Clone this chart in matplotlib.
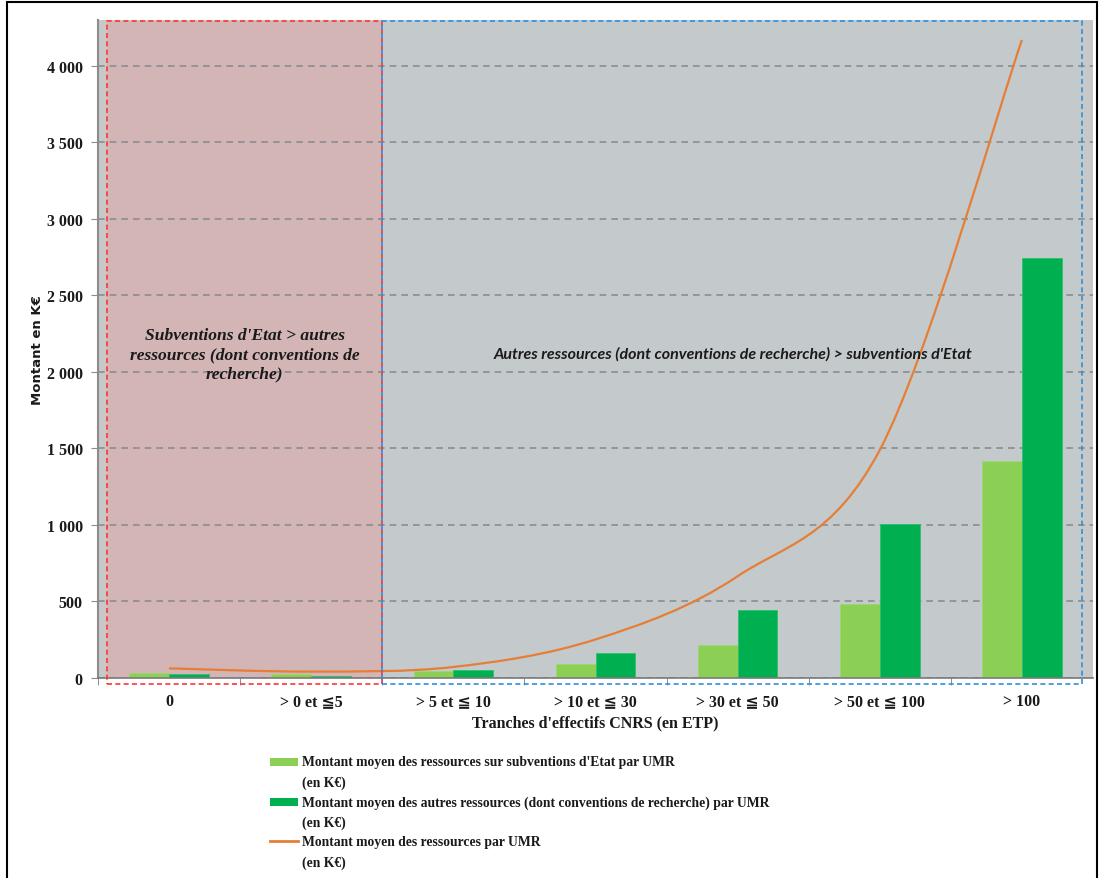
#!/usr/bin/env python3
# -*- coding: utf-8 -*-
"""
Ressources moyennes par UMR selon les tranches d'effectifs CNRS.
Barres groupées + courbe lissée (style Excel), sauvegardé dans out.png.
"""
import matplotlib
matplotlib.use("Agg")
import matplotlib.pyplot as plt
from matplotlib.patches import Rectangle, PathPatch
from matplotlib.lines import Line2D
from matplotlib.path import Path
from matplotlib.ticker import FuncFormatter

# Données (en K€)
tranches = ["0", "> 0 et ≦5", "> 5 et ≦ 10", "> 10 et ≦ 30",
            "> 30 et ≦ 50", "> 50 et ≦ 100", "> 100"]
subventions_etat = [35, 24, 48, 92, 213, 486, 1420]
autres_ressources = [24, 15, 50, 163, 446, 1008, 2742]
total_ressources = [63, 42, 72, 252, 665, 1490, 4170]

labels_legende = [
    ("Montant moyen des ressources sur subventions d'Etat par UMR", "(en K€)"),
    ("Montant moyen des autres ressources (dont conventions de recherche) par UMR", "(en K€)"),
    ("Montant moyen des ressources par UMR", "(en K€)"),
]
texte_gauche = "Subventions d'Etat > autres\nressources (dont conventions de\nrecherche)"
texte_droite = "Autres ressources (dont conventions de recherche) > subventions d'Etat"

VERT_CLAIR = "#8ccf55"
VERT_FONCE = "#00b050"
ORANGE = "#e57e36"
# ≦ absent de Liberation Serif : repli sur DejaVu Sans / Noto CJK
SERIF = ["Liberation Serif", "DejaVu Sans", "Noto Sans CJK JP"]


def courbe_lissee(xs, ys):
    """Chemin Bézier type Catmull-Rom (comme le lissage d'Excel)."""
    pts = list(zip(xs, ys))
    verts = [pts[0]]
    codes = [Path.MOVETO]
    n = len(pts)
    for i in range(n - 1):
        p0 = pts[i - 1] if i > 0 else pts[i]
        p1 = pts[i]
        p2 = pts[i + 1]
        p3 = pts[i + 2] if i + 2 < n else pts[i + 1]
        c1 = (p1[0] + (p2[0] - p0[0]) / 6, p1[1] + (p2[1] - p0[1]) / 6)
        c2 = (p2[0] - (p3[0] - p1[0]) / 6, p2[1] - (p3[1] - p1[1]) / 6)
        verts += [c1, c2, p2]
        codes += [Path.CURVE4] * 3
    return Path(verts, codes)


def graphique():
    fig = plt.figure(figsize=(11.01, 8.79), dpi=100)
    ax = fig.add_axes([98 / 1101, 1 - 679 / 879, (1093 - 98) / 1101, (679 - 21) / 879])
    ax.set_facecolor("#c8c8c8")
    ax.set_xlim(-0.5, 6.5)
    ax.set_ylim(0, 4300)

    # Zones colorées
    ax.add_patch(Rectangle((-0.435, 0), 1.935, 4292, facecolor="#d3b5b6",
                           edgecolor="none", zorder=0.1))
    ax.add_patch(Rectangle((1.5, 0), 4.92, 4292, facecolor="#c4cacc",
                           edgecolor="none", zorder=0.1))
    ax.add_patch(Rectangle((-0.435, -40), 1.935, 4332, facecolor="none",
                           edgecolor="#ff3333", linestyle=(0, (3, 2)), lw=1.2,
                           zorder=4, clip_on=False))
    ax.add_patch(Rectangle((1.5, -40), 4.92, 4332, facecolor="none",
                           edgecolor="#2b8fe0", linestyle=(0, (3, 2)), lw=1.2,
                           zorder=4, clip_on=False))

    # Grille
    ax.set_axisbelow(True)
    ax.yaxis.grid(True, color="#8c8c8c", linestyle=(0, (4, 3)), lw=1.2)
    ax.set_yticks(range(0, 4001, 500))
    ax.yaxis.set_major_formatter(FuncFormatter(lambda v, p: f"{int(v):,}".replace(",", " ")))

    # Barres
    largeur = 0.28
    x = list(range(len(tranches)))
    ax.bar([i - largeur / 2 for i in x], subventions_etat, largeur,
           color=VERT_CLAIR, edgecolor="#9bd870", lw=0.6, zorder=2)
    ax.bar([i + largeur / 2 for i in x], autres_ressources, largeur,
           color=VERT_FONCE, edgecolor="#2cc070", lw=0.6, zorder=2)

    # Courbe lissée du total
    ax.add_patch(PathPatch(courbe_lissee(x, total_ressources), facecolor="none",
                           edgecolor=ORANGE, lw=1.6, zorder=3))

    # Axes
    for s in ("top", "right"):
        ax.spines[s].set_visible(False)
    ax.spines["left"].set_color("#8c8c8c")
    ax.spines["left"].set_linewidth(1.5)
    ax.spines["bottom"].set_color("#7a7a7a")
    ax.spines["bottom"].set_linewidth(1.2)
    ax.set_xticks(x)
    ax.set_xticklabels(tranches)
    ax.set_xticks([-0.5, 0.5, 1.5, 2.5, 3.5, 4.5, 5.5], minor=True)
    ax.tick_params(axis="x", which="major", length=0, pad=11)
    ax.tick_params(axis="x", which="minor", length=5, color="#7a7a7a")
    ax.tick_params(axis="y", length=5, color="#8c8c8c", pad=6)
    for t in ax.get_xticklabels() + ax.get_yticklabels():
        t.set_family(SERIF)
        t.set_fontweight("bold")
        t.set_fontsize(11.5)
        t.set_color("#1a1a1a")

    ax.set_xlabel("Tranches d'effectifs CNRS (en ETP)", family=SERIF,
                  fontweight="bold", fontsize=11.5, labelpad=4, color="#1a1a1a")
    ax.set_ylabel("Montant en K€", family="DejaVu Sans", fontweight="bold",
                  fontsize=9.5, labelpad=2, color="#1a1a1a")

    # Annotations
    ax.text(0.533, 2116, texte_gauche, ha="center", va="center", family=SERIF,
            fontweight="bold", style="italic", fontsize=12.6, linespacing=1.3,
            color="#1a1a1a", zorder=5)
    ax.text(3.97, 2122, texte_droite, ha="center", va="center", family="Lato",
            fontweight="bold", style="italic", fontsize=11.5, color="#1a1a1a",
            zorder=5)

    # Légende dessinée à la main (symbole aligné sur la première ligne)
    W, H = 1101, 879
    couleurs = [VERT_CLAIR, VERT_FONCE]
    for k, (l1, l2) in enumerate(labels_legende):
        y1 = 763 + 40 * k
        if k < 2:
            fig.add_artist(Rectangle((270 / W, 1 - (y1 + 4) / H), 28 / W, 8 / H,
                                     facecolor=couleurs[k], edgecolor="none"))
        else:
            fig.add_artist(Line2D([270 / W, 298 / W], [1 - (y1 - 1) / H] * 2,
                                  color=ORANGE, lw=2))
        fig.text(302 / W, 1 - y1 / H, l1, va="center", ha="left", family=SERIF,
                 fontweight="bold", fontsize=9.8, color="#1a1a1a")
        fig.text(302 / W, 1 - (y1 + 20) / H, l2, va="center", ha="left", family=SERIF,
                 fontweight="bold", fontsize=9.8, color="#1a1a1a")

    # Cadre noir autour de l'image
    fig.add_artist(Rectangle((7 / W, -0.05), (1097 - 7) / W, 1.05 - 3 / H,
                             facecolor="none", edgecolor="black", lw=1.5))

    fig.savefig("out.png", dpi=100)


if __name__ == "__main__":
    graphique()
